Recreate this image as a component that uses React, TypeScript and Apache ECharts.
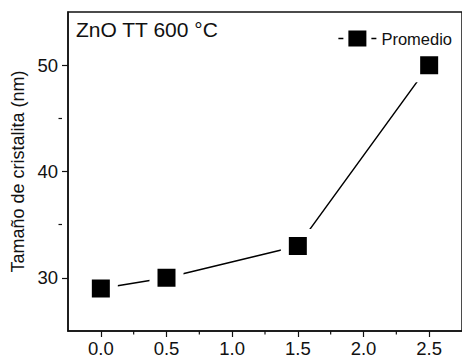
import React, { useEffect, useRef } from "react";
import * as echarts from "echarts";

const xValues = [0.0, 0.5, 1.5, 2.5];
const promedio = [29, 30, 33, 50];
const xMajorTicks = [0, 0.5, 1, 1.5, 2, 2.5];
const xMinorTicks = [0.25, 0.75, 1.25, 1.75, 2.25];
const yMajorTicks = [30, 40, 50];
const yMinorTicks = [35, 45];
const seriesName = "Promedio";
const titleText = "ZnO TT 600 °C";
const yAxisName = "Tamaño de cristalita (nm)";

export default function App() {
  const ref = useRef<HTMLDivElement>(null);
  useEffect(() => {
    if (!ref.current) return;
    const chart = echarts.init(ref.current, undefined, { renderer: "svg" });
    const font = "'Liberation Sans', Arial, sans-serif";
    const axisColor = "#111";
    const yMin = 25;
    chart.setOption({
      animation: false,
      backgroundColor: "#fff",
      textStyle: { fontFamily: font },
      title: {
        text: titleText,
        left: 71,
        top: 14,
        textStyle: { fontFamily: font, fontSize: 21, fontWeight: "normal", color: "#111" },
      },
      legend: {
        right: 5,
        top: 25,
        itemWidth: 38,
        itemHeight: 16,
        icon: "path://M0,7.2h5v1.6h-5z M10,0h18v16h-18z M33,7.2h5v1.6h-5z",
        itemStyle: { color: "#000", borderWidth: 0 },
        textStyle: { fontFamily: font, fontSize: 16.5, color: "#111" },
        data: [seriesName],
      },
      grid: {
        left: 68,
        top: 12,
        bottom: 25,
        right: -6,
        show: true,
        borderColor: axisColor,
        borderWidth: 1.5,
        backgroundColor: "transparent",
      },
      xAxis: [
        {
          type: "value",
          min: -0.25,
          max: 2.75,
          position: "bottom",
          splitLine: { show: false },
          axisLine: { show: true, onZero: false, lineStyle: { color: axisColor, width: 1.5 } },
          axisTick: { show: true, customValues: xMajorTicks, length: 6, lineStyle: { color: axisColor, width: 1.2 } },
          axisLabel: {
            customValues: xMajorTicks,
            formatter: (v: number) => v.toFixed(1),
            fontSize: 18.5,
            color: "#111",
            margin: 8,
            fontFamily: font,
          },
        },
      ],
      yAxis: [
        {
          type: "value",
          min: yMin,
          max: 55,
          position: "left",
          name: yAxisName,
          nameLocation: "middle",
          nameGap: 38,
          nameTextStyle: { fontFamily: font, fontSize: 18, color: "#111" },
          splitLine: { show: false },
          axisLine: { show: true, onZero: false, lineStyle: { color: axisColor, width: 1.5 } },
          axisTick: { show: true, customValues: yMajorTicks, length: 6, lineStyle: { color: axisColor, width: 1.2 } },
          axisLabel: { customValues: yMajorTicks, fontSize: 18.5, color: "#111", margin: 10, fontFamily: font },
        },
        {
          type: "value",
          min: yMin,
          max: 55,
          position: "right",
          offset: -400,
          splitLine: { show: false },
          axisLine: { show: false, onZero: false },
          axisTick: { show: true, inside: true, customValues: yMinorTicks, length: 3.5, lineStyle: { color: axisColor, width: 1.2 } },
          axisLabel: { show: false },
        },
      ],
      series: [
        {
          name: seriesName,
          type: "line",
          xAxisIndex: 0,
          yAxisIndex: 0,
          data: xValues.map((x, i) => [x, promedio[i]]),
          symbol: "rect",
          symbolSize: 26,
          lineStyle: { color: "#000", width: 1.5 },
          itemStyle: { color: "#000", borderColor: "#fff", borderWidth: 8 },
          z: 3,
        },
        {
          name: "minorTicksX",
          type: "custom",
          xAxisIndex: 0,
          yAxisIndex: 0,
          silent: true,
          clip: false,
          data: xMinorTicks.map((v) => [v, yMin]),
          renderItem: (_params: any, api: any) => {
            const p = api.coord([api.value(0), api.value(1)]);
            return {
              type: "line",
              shape: { x1: p[0], y1: p[1], x2: p[0], y2: p[1] + 3.5 },
              style: { stroke: axisColor, lineWidth: 1.2 },
            };
          },
          z: 1,
        },
      ],
    });
    return () => chart.dispose();
  }, []);
  return (
    <div
      ref={ref}
      style={{ position: "absolute", left: 0, top: 0, width: 462, height: 358 }}
    />
  );
}
